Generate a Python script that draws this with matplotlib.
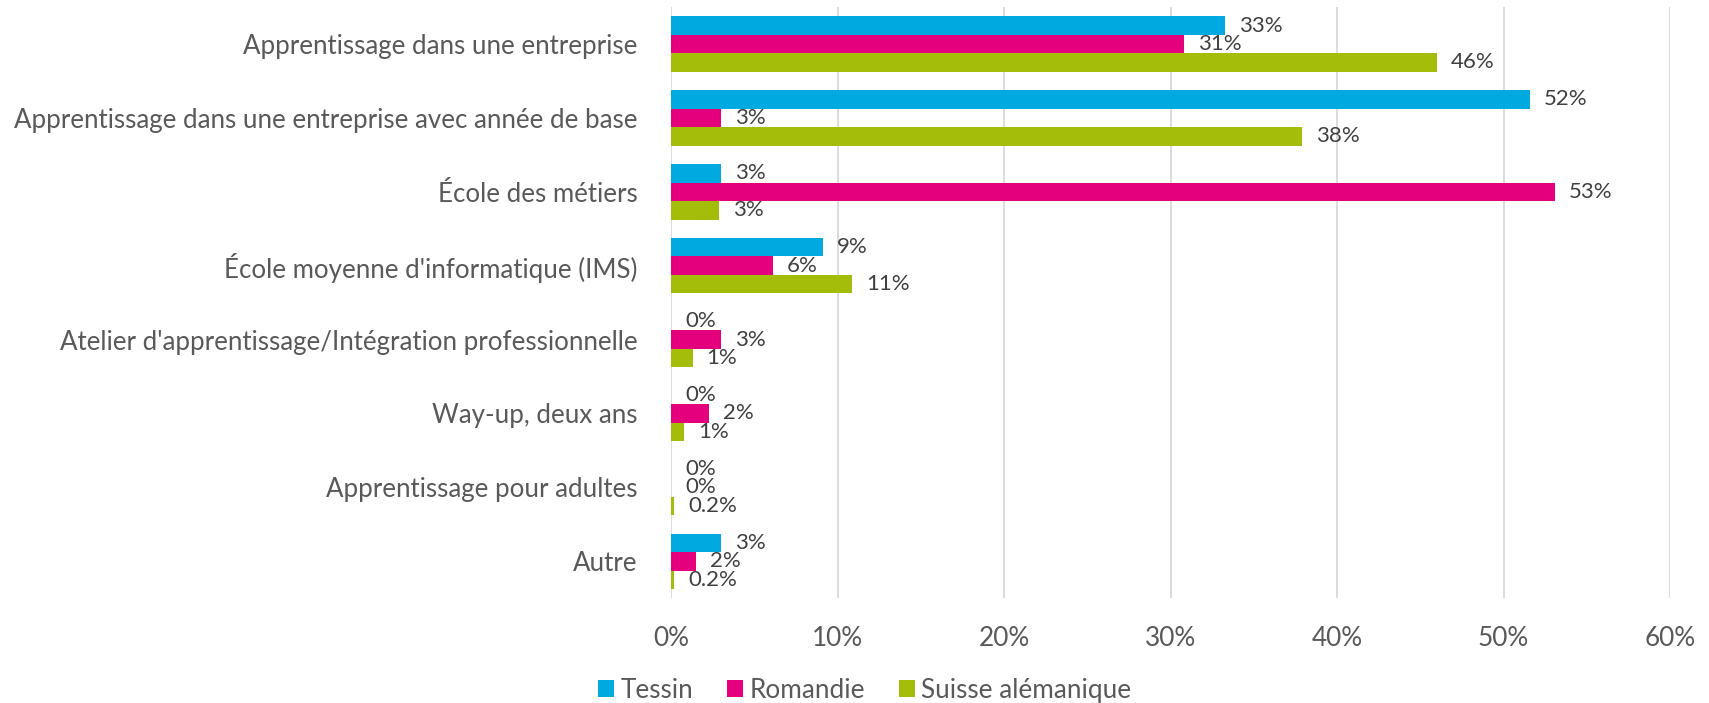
import matplotlib.pyplot as plt
import numpy as np

categories = [
    "Apprentissage dans une entreprise",
    "Apprentissage dans une entreprise avec année de base",
    "École des métiers",
    "École moyenne d'informatique (IMS)",
    "Atelier d'apprentissage/Intégration professionnelle",
    "Way-up, deux ans",
    "Apprentissage pour adultes",
    "Autre",
]
series = ["Tessin", "Romandie", "Suisse alémanique"]
tessin = [33.3, 51.6, 3.0, 9.1, 0.0, 0.0, 0.0, 3.0]
romandie = [30.8, 3.0, 53.1, 6.1, 3.0, 2.3, 0.0, 1.5]
suisse = [46.0, 37.9, 2.9, 10.9, 1.3, 0.8, 0.2, 0.2]
colors = ["#00AAE1", "#E4007C", "#A4BD0A"]
xticks = [0, 10, 20, 30, 40, 50, 60]

plt.rcParams["font.family"] = ["Lato", "DejaVu Sans"]


def fmt(v):
    if 0 < v < 0.5:
        return f"{v:.1f}%"
    return f"{v:.0f}%"


fig = plt.figure(figsize=(17.09, 7.03), dpi=100)
ax = fig.add_axes([671 / 1709, 0.149, 999 / 1709, 0.841])

y = np.arange(len(categories))
h = 0.25
for i, (name, vals) in enumerate(zip(series, [tessin, romandie, suisse])):
    bars = ax.barh(y + (i - 1) * h, vals, height=h, color=colors[i], label=name)
    ax.bar_label(bars, labels=[fmt(v) for v in vals], padding=10,
                 fontsize=16, color="#404040")

ax.set_xlim(0, 60)
ax.set_ylim(len(categories) - 0.5, -0.5)
ax.set_xticks(xticks)
ax.set_xticklabels([f"{t}%" for t in xticks])
ax.set_yticks(y)
ax.set_yticklabels(categories)
ax.tick_params(axis="y", length=0, pad=24, labelsize=18.6, labelcolor="#595959")
ax.tick_params(axis="x", length=0, pad=20, labelsize=18.8, labelcolor="#595959")
ax.grid(axis="x", color="#d9d9d9", linewidth=1.3)
ax.set_axisbelow(True)
for s in ax.spines.values():
    s.set_visible(False)

fig.legend(loc="center", bbox_to_anchor=(0.506, 0.018), ncol=3, frameon=False,
           fontsize=18.8, labelcolor="#595959", handlelength=0.6, handleheight=0.6,
           handletextpad=0.25, columnspacing=1.3, borderaxespad=0)

fig.savefig("out.png", dpi=100)
